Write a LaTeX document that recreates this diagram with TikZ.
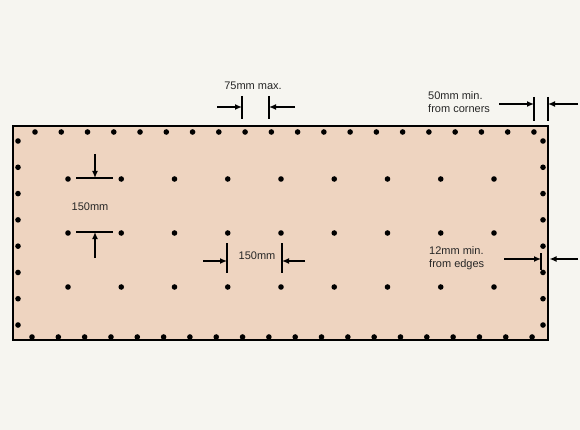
\documentclass[tikz,border=0pt]{standalone}
\usepackage{fontspec}
\setmainfont{Liberation Sans}
\usetikzlibrary{arrows.meta}
\definecolor{bg}{RGB}{246,245,240}
\definecolor{panel}{RGB}{238,212,192}
\begin{document}
\begin{tikzpicture}[x=1pt,y=-1pt,
  dimline/.style={line width=1.3pt},
  dimarrow/.style={line width=1.3pt,-{Latex[length=7pt,width=6pt]}},
  lbl/.style={font=\fontsize{11}{13}\selectfont, inner sep=0pt, align=left, text=black!85}]
\fill[bg] (0,0) rectangle (580,430);
\useasboundingbox (0,0) rectangle (580,430);
% panel
\draw[fill=panel, line width=1.5pt] (13,126) coordinate (pNW) rectangle (548,340) coordinate (pSE);
% edge holes
\foreach \i in {0,...,19} {
  \fill (35+26.26*\i,132) circle (2.8pt);
  \fill (32+26.32*\i,337) circle (2.8pt);
}
\foreach \j in {0,...,7} {
  \fill (18,141+26.29*\j) circle (2.8pt);
  \fill (543,141+26.29*\j) circle (2.8pt);
}
% inner grid
\foreach \r in {179,233,287}
  \foreach \i in {0,...,8}
    \fill (68+53.25*\i,\r) circle (2.8pt);

% 75mm max.
\node[lbl] (t75) at (253,86) {75mm max.};
\coordinate (a1) at (242,107); \coordinate (a2) at (269,107);
\draw[dimline] (242,96) -- (242,119);
\draw[dimline] (269,96) -- (269,119);
\draw[dimarrow] (217,107) -- (a1);
\draw[dimarrow] (295,107) -- (a2);

% 50mm min. from corners
\node[lbl, anchor=west] (t50) at (428,102) {50mm min.\\from corners};
\coordinate (b1) at (534,104); \coordinate (b2) at (548,104);
\draw[dimline] (534,97) -- (534,121);
\draw[dimline] (548,97) -- (548,121);
\draw[dimarrow] (499,104) -- (b1);
\draw[dimarrow] (578,104) -- (b2);

% 12mm min. from edges
\node[lbl, anchor=west] (t12) at (429,258.5) {12mm min.\\from edges};
\coordinate (c1) at (541,259); \coordinate (c2) at (549.5,259);
\draw[dimline] (541,253) -- (541,270);
\draw[dimarrow] (504,259) -- (c1);
\draw[dimarrow] (578,259) -- (c2);

% 150mm horizontal
\node[lbl] (th) at (257,256) {150mm};
\coordinate (d1) at (227,261); \coordinate (d2) at (282,261);
\draw[dimline] (227,243) -- (227,273);
\draw[dimline] (282,243) -- (282,273);
\draw[dimarrow] (203,261) -- (d1);
\draw[dimarrow] (305,261) -- (d2);

% 150mm vertical
\node[lbl] (tv) at (90,207) {150mm};
\coordinate (e1) at (95,178); \coordinate (e2) at (95,232);
\draw[dimline] (76,178) -- (113,178);
\draw[dimline] (76,232) -- (113,232);
\draw[dimarrow] (95,154) -- (e1);
\draw[dimarrow] (95,258) -- (e2);
\end{tikzpicture}
\end{document}
